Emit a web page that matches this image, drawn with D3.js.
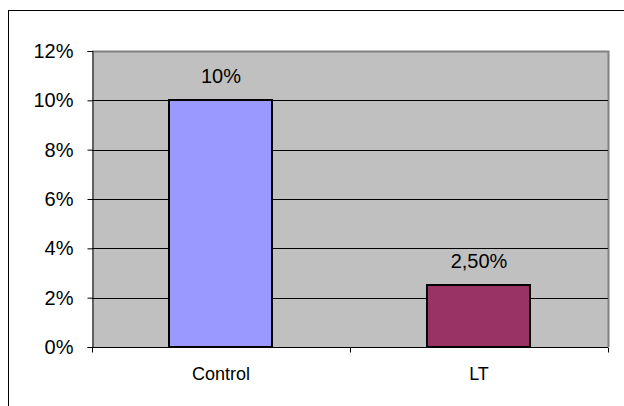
<!DOCTYPE html>
<html><head><meta charset="utf-8">
<script src="https://cdn.jsdelivr.net/npm/d3@7"></script>
<style>body{margin:0;background:#fff}svg{display:block}</style>
</head><body>
<script>
const categories = ["Control", "LT"];
const values = [10, 2.5];
const valueLabels = ["10%", "2,50%"];
const colors = ["#9999FF", "#993366"];
const yTicks = [0, 2, 4, 6, 8, 10, 12];

const W = 624, H = 406;
const FONT = "Liberation Sans, Arial, sans-serif";
const svg = d3.select("body").append("svg").attr("width", W).attr("height", H);
svg.append("rect").attr("x", 8.5).attr("y", 10.5).attr("width", 640).attr("height", 420)
  .attr("fill", "#fff").attr("stroke", "#000").attr("stroke-width", 1);

const L = 92, R = 608, T = 51, B = 347;
const x = d3.scaleBand().domain(categories).range([L, R]).paddingInner(0.6).paddingOuter(0.3);
const y = d3.scaleLinear().domain([0, 12]).range([B, T]);

svg.append("rect").attr("x", L).attr("y", T).attr("width", R - L).attr("height", B - T).attr("fill", "#C0C0C0");
svg.append("path").attr("d", `M${L},${T + 0.5}H${R + 0.5}V${B}`).attr("fill", "none").attr("stroke", "#808080").attr("stroke-width", 2);

// gridlines
svg.append("g").selectAll("line").data(yTicks.filter(d => d > 0 && d < 12)).join("line")
  .attr("x1", L).attr("x2", R).attr("y1", d => Math.round(y(d)) + 0.5).attr("y2", d => Math.round(y(d)) + 0.5)
  .attr("stroke", "#000").attr("stroke-width", 1);

// bars
svg.append("g").selectAll("rect").data(values).join("rect")
  .attr("x", (d, i) => Math.round(x(categories[i])))
  .attr("y", d => Math.round(y(d)))
  .attr("width", Math.round(x.bandwidth()))
  .attr("height", d => B - Math.round(y(d)))
  .attr("fill", (d, i) => colors[i]).attr("stroke", "#000").attr("stroke-width", 2);

// data labels
svg.append("g").selectAll("text").data(values).join("text")
  .attr("x", (d, i) => x(categories[i]) + x.bandwidth() / 2)
  .attr("y", d => y(d) - 17)
  .attr("text-anchor", "middle").attr("font-family", FONT).attr("font-size", 20)
  .text((d, i) => valueLabels[i]);

// y axis
const yAxis = svg.append("g").attr("transform", `translate(${L + 0.5},0)`)
  .call(d3.axisLeft(y).tickValues(yTicks).tickFormat(d => d + "%").tickSize(5).tickPadding(14));
yAxis.selectAll("text").attr("font-family", FONT).attr("font-size", 20).attr("fill", "#000");
yAxis.select(".domain").attr("stroke", "#000");
yAxis.selectAll(".tick line").attr("stroke", "#000");

// x axis
const xAxisG = svg.append("g").attr("transform", `translate(0,${B + 0.5})`);
xAxisG.append("line").attr("x1", L).attr("x2", R).attr("stroke", "#000");
const bounds = [L, L + x.step(), R];
xAxisG.selectAll("line.t").data(bounds).join("line").attr("class", "t")
  .attr("x1", d => Math.round(d) + 0.5).attr("x2", d => Math.round(d) + 0.5).attr("y1", 0).attr("y2", 5).attr("stroke", "#000");
xAxisG.selectAll("text").data(categories).join("text")
  .attr("x", d => x(d) + x.bandwidth() / 2).attr("y", 32)
  .attr("text-anchor", "middle").attr("font-family", FONT).attr("font-size", 18)
  .text(d => d);
</script>
</body></html>
